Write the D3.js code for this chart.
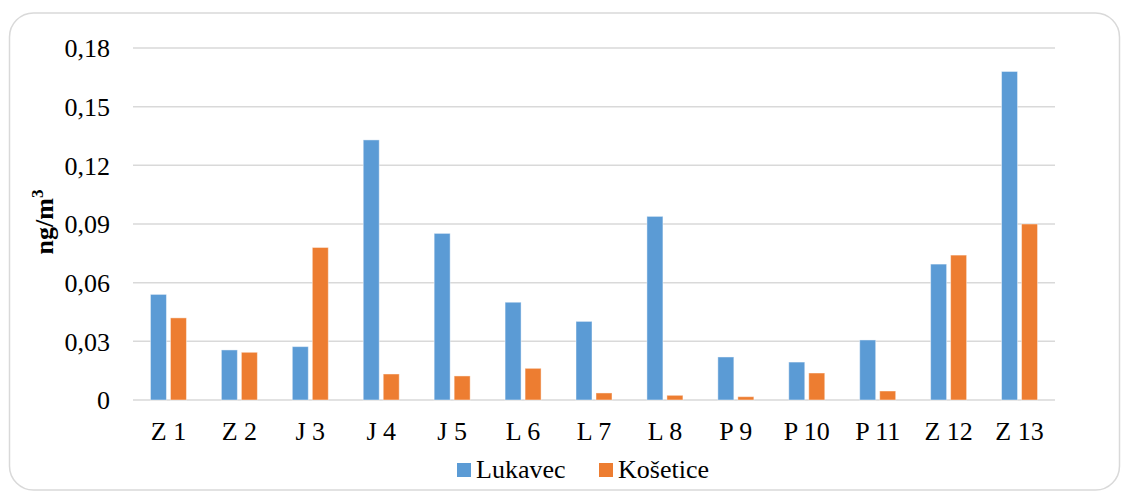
<!DOCTYPE html>
<html>
<head>
<meta charset="utf-8">
<script src="https://cdn.jsdelivr.net/npm/d3@7"></script>
<style>
  html, body { margin: 0; padding: 0; background: #fff; }
  svg { display: block; }
</style>
</head>
<body>
<svg id="chart" width="1125" height="491"></svg>
<script>
// Sampling periods and measured concentrations (ng/m3)
const categories = ["Z 1", "Z 2", "J 3", "J 4", "J 5", "L 6", "L 7", "L 8", "P 9", "P 10", "P 11", "Z 12", "Z 13"];
const seriesNames = ["Lukavec", "Košetice"];
const lukavec = [0.054, 0.0256, 0.0273, 0.133, 0.0852, 0.050, 0.0402, 0.0939, 0.022, 0.0194, 0.0307, 0.0695, 0.168];
const kosetice = [0.042, 0.0244, 0.078, 0.0133, 0.0123, 0.0162, 0.0036, 0.0024, 0.0017, 0.0138, 0.0046, 0.0741, 0.090];
const yTicks = [0, 0.03, 0.06, 0.09, 0.12, 0.15, 0.18];
const colors = ["#5b9bd5", "#ed7d31"];

const svg = d3.select("#chart");
const font = "Liberation Serif, Times New Roman, serif";
const fontSize = 26;

// Outer frame
svg.append("rect")
  .attr("x", 9.5).attr("y", 13)
  .attr("width", 1110).attr("height", 477)
  .attr("rx", 24).attr("ry", 24)
  .attr("fill", "#fff")
  .attr("stroke", "#d9d9d9")
  .attr("stroke-width", 1.5);

const plot = { left: 133, right: 1055, top: 48, bottom: 400 };

const x = d3.scaleBand().domain(categories).range([plot.left, plot.right]).padding(0);
const y = d3.scaleLinear().domain([0, 0.18]).range([plot.bottom, plot.top]);
const xs = d3.scaleBand().domain(seriesNames).range([-18, 18]).paddingInner(0.2);

// Gridlines
svg.append("g")
  .selectAll("line")
  .data(yTicks)
  .join("line")
  .attr("x1", plot.left).attr("x2", plot.right)
  .attr("y1", d => y(d)).attr("y2", d => y(d))
  .attr("stroke", "#d9d9d9")
  .attr("stroke-width", 1.5);

// Y axis labels
const fmt = d => d === 0 ? "0" : d.toFixed(2).replace(".", ",");
const yAxis = d3.axisLeft(y).tickValues(yTicks).tickFormat(fmt).tickSize(0).tickPadding(0);
const yg = svg.append("g").attr("transform", `translate(110,0)`).call(yAxis);
yg.select(".domain").remove();
yg.attr("font-family", font).attr("font-size", fontSize);
yg.selectAll("text")
  .attr("fill", "#000")
  .attr("dy", "0.34em");

// Bars
const rows = categories.map((c, i) => ({ cat: c, values: [lukavec[i], kosetice[i]] }));
const groups = svg.append("g").selectAll("g")
  .data(rows)
  .join("g")
  .attr("transform", d => `translate(${x(d.cat) + x.bandwidth() / 2},0)`);

groups.selectAll("rect")
  .data(d => d.values.map((v, j) => ({ name: seriesNames[j], v, j })))
  .join("rect")
  .attr("x", d => xs(d.name))
  .attr("width", xs.bandwidth())
  .attr("y", d => y(d.v))
  .attr("height", d => y(0) - y(d.v))
  .attr("fill", d => colors[d.j])
  .attr("stroke", "#ffffff")
  .attr("stroke-opacity", 0.45)
  .attr("stroke-width", 1);

// X axis labels
const xAxis = d3.axisBottom(x).tickSize(0).tickPadding(0);
const xg = svg.append("g").attr("transform", `translate(0,${plot.bottom})`).call(xAxis);
xg.select(".domain").remove();
xg.attr("font-family", font).attr("font-size", fontSize);
xg.selectAll("text")
  .attr("fill", "#000")
  .attr("dy", null)
  .attr("y", 40);

// Y axis title
const yt = svg.append("text")
  .attr("transform", "translate(53,222) rotate(-90)")
  .attr("text-anchor", "middle")
  .attr("font-family", font)
  .attr("font-weight", "bold")
  .attr("font-size", fontSize)
  .attr("fill", "#000");
yt.append("tspan").text("ng/m");
yt.append("tspan").attr("font-size", 17).attr("dy", -10).text("3");

// Legend
const legendItems = [{ name: seriesNames[0], x: 457 }, { name: seriesNames[1], x: 599 }];
const lg = svg.append("g").selectAll("g")
  .data(legendItems)
  .join("g")
  .attr("transform", d => `translate(${d.x},463)`);
lg.append("rect")
  .attr("width", 14).attr("height", 14)
  .attr("fill", (d, i) => colors[i]);
lg.append("text")
  .attr("x", 19).attr("y", 15)
  .attr("font-family", font)
  .attr("font-size", fontSize)
  .attr("fill", "#000")
  .text(d => d.name);
</script>
</body>
</html>
